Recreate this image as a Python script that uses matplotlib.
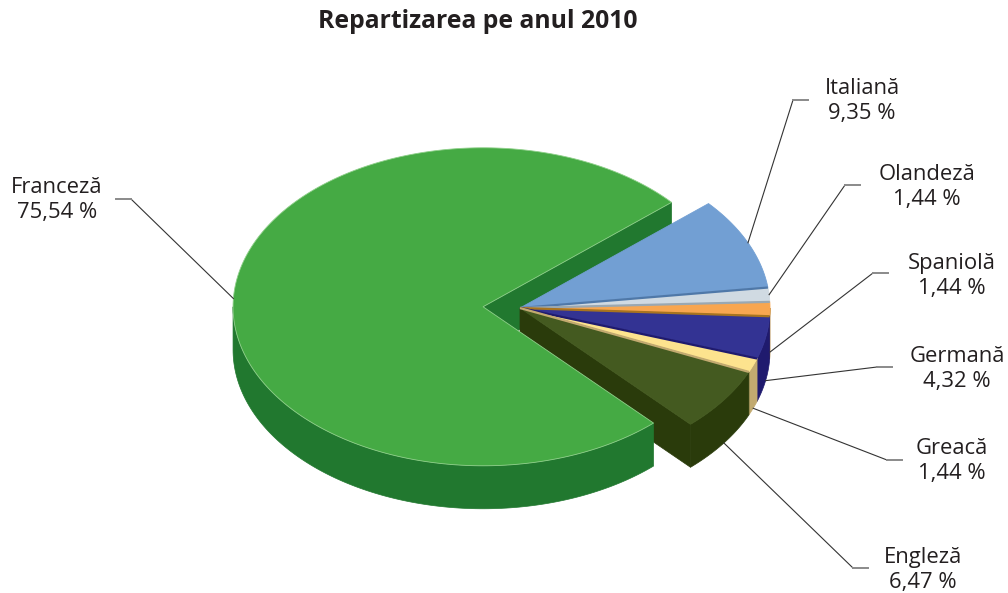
import numpy as np
import matplotlib.pyplot as plt
from matplotlib.patches import Polygon

# Data
languages = ['Franceză', 'Italiană', 'Olandeză', 'Spaniolă', 'Germană', 'Greacă', 'Engleză']
shares = [75.54, 9.35, 1.44, 1.44, 4.32, 1.44, 6.47]

top_colors = ['#45aa44', '#729fd3', '#d0dae2', '#f8a650', '#333393', '#fde38e', '#445a20']
side_colors = ['#21782f', '#4f78a8', '#9aa8b2', '#a8741f', '#1f1a6e', '#c2aa70', '#2a3b0b']
explode = [37, 0, 0, 0, 0, 0, 0]  # px

# Layout (pixels)
W, H = 1008, 593
cx, cy = 520, 308
rx, ry = 250, 159
depth = 43
start = -47  # deg, slices go clockwise from here

label_xy = [(57, 200), (862, 101), (927, 187), (952, 276), (957, 369), (952, 461), (923, 570)]
elbow_xy = [(131, 199), (793, 100), (845, 185), (873, 273), (877, 367), (887, 460), (853, 568)]
anchor_on_wall = [0, 0, 0, 1, 1, 1, 1]

plt.rcParams['font.family'] = ['Open Sans', 'DejaVu Sans']

fig = plt.figure(figsize=(W / 100, H / 100), dpi=100)
ax = fig.add_axes([0, 0, 1, 1])
ax.set_xlim(0, W)
ax.set_ylim(H, 0)
ax.axis('off')


def pt(a, c, dz=0.0):
    r = np.radians(a)
    return np.array([c[0] + rx * np.cos(r), c[1] - ry * np.sin(r) + dz])


def arc(a_from, a_to, c, dz=0.0):
    n = max(2, int(abs(a_to - a_from)) + 2)
    return np.array([pt(a, c, dz) for a in np.linspace(a_from, a_to, n)])


n = len(shares)
cum = np.concatenate([[0], np.cumsum(shares)])
a_hi = [start - cum[i] * 3.6 for i in range(n)]
a_lo = [start - cum[i + 1] * 3.6 for i in range(n)]
mids = [(a_hi[i] + a_lo[i]) / 2 for i in range(n)]
centers = []
for i in range(n):
    m = np.radians(mids[i])
    centers.append((cx + explode[i] * np.cos(m), cy - explode[i] * np.sin(m) * ry / rx))

# Side pieces: radial cut faces and outer walls
sides = []
for i in range(n):
    c = centers[i]
    nxt = (i + 1) % n
    prv = (i - 1) % n
    # cut faces where a slice is pulled away from its neighbour
    if explode[i] != explode[nxt] and np.cos(np.radians(a_lo[i])) > 0:
        e = pt(a_lo[i], c)
        poly = np.array([c, e, e + [0, depth], np.array(c) + [0, depth]])
        sides.append((poly[:, 1].mean(), poly, side_colors[i]))
    if explode[i] != explode[prv] and np.cos(np.radians(a_hi[i])) < 0:
        e = pt(a_hi[i], c)
        poly = np.array([c, e, e + [0, depth], np.array(c) + [0, depth]])
        sides.append((poly[:, 1].mean(), poly, side_colors[i]))
    # outer wall, front half only
    for k in (-2, -1, 0, 1):
        lo = max(a_lo[i], 180 + 360 * k)
        hi = min(a_hi[i], 360 + 360 * k)
        if hi > lo:
            top = arc(lo, hi, c)
            bot = arc(hi, lo, c, depth)
            poly = np.vstack([top, bot])
            sides.append((top[:, 1].mean(), poly, side_colors[i]))

for _, poly, col in sorted(sides, key=lambda s: s[0]):
    ax.add_patch(Polygon(poly, closed=True, facecolor=col, edgecolor=col, lw=0.5))

# Top faces
for i in range(n):
    c = centers[i]
    poly = np.vstack([[c], arc(a_hi[i], a_lo[i], c)])
    edge = '#8fd08a' if explode[i] else top_colors[i]
    ax.add_patch(Polygon(poly, closed=True, facecolor=top_colors[i], edgecolor=edge, lw=0.6))
    if not explode[i] and i != n - 1:
        e = pt(a_lo[i], c)
        ax.plot([c[0], e[0]], [c[1], e[1]], color=side_colors[i], lw=1.6, solid_capstyle='butt')

# Labels and leader lines
for i in range(n):
    c = centers[i]
    anchor = pt(mids[i], c, depth * anchor_on_wall[i])
    ex, ey = elbow_xy[i]
    step = -15 if label_xy[i][0] < ex else 15
    ax.plot([anchor[0], ex], [anchor[1], ey], color='#333333', lw=0.8)
    ax.plot([ex, ex + step], [ey, ey], color='#8a8a8a', lw=1.4)
    txt = languages[i] + '\n' + f'{shares[i]:.2f}'.replace('.', ',') + ' %'
    ax.text(label_xy[i][0], label_xy[i][1], txt, ha='center', va='center',
            multialignment='center', fontsize=15.8, color='#231f20', linespacing=1.3)

ax.text(478, 22, 'Repartizarea pe anul 2010', ha='center', va='center',
        fontsize=17.8, fontweight='bold', color='#231f20')

fig.savefig('out.png', dpi=100)
